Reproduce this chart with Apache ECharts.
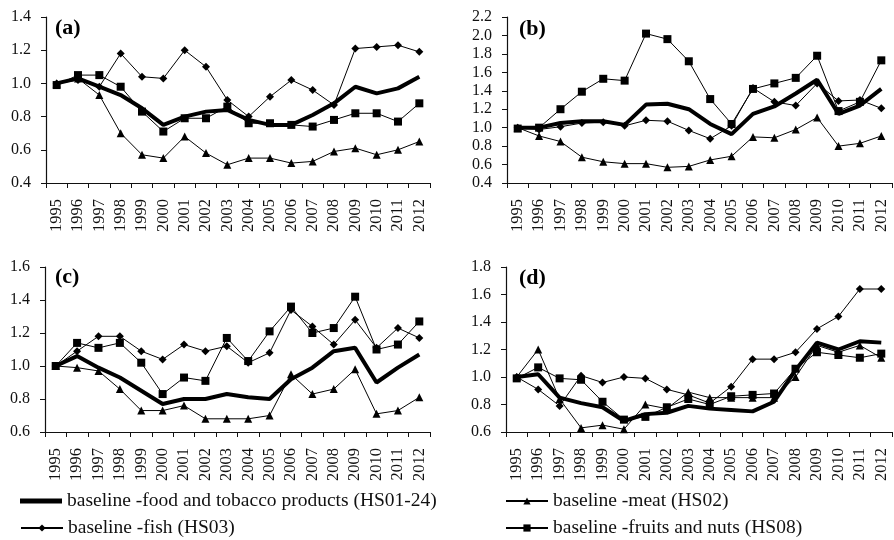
<!DOCTYPE html>
<html>
<head>
<meta charset="utf-8">
<script src="https://cdn.jsdelivr.net/npm/echarts@6.0.0/dist/echarts.min.js"></script>
<style>
  html, body { margin: 0; padding: 0; background: #fff; }
  #chart { width: 894px; height: 540px; }
</style>
</head>
<body>
<div id="chart"></div>
<script>
// Years on the x axis
const years = ["1995", "1996", "1997", "1998", "1999", "2000", "2001", "2002", "2003",
  "2004", "2005", "2006", "2007", "2008", "2009", "2010", "2011", "2012"];

// Series names
const names = [
  "baseline -food and tobacco products (HS01-24)",
  "baseline -meat (HS02)",
  "baseline -fish (HS03)",
  "baseline -fruits and nuts (HS08)",
];

// Panel (a)
const foodA = [1.00, 1.03, 0.98, 0.93, 0.85, 0.75, 0.80, 0.83, 0.84, 0.78, 0.75, 0.75, 0.81, 0.88, 0.98, 0.94, 0.97, 1.04];
const meatA = [1.00, 1.03, 0.93, 0.70, 0.57, 0.55, 0.68, 0.58, 0.51, 0.55, 0.55, 0.52, 0.53, 0.59, 0.61, 0.57, 0.60, 0.65];
const fishA = [1.00, 1.02, 0.98, 1.18, 1.04, 1.03, 1.20, 1.10, 0.90, 0.80, 0.92, 1.02, 0.96, 0.87, 1.21, 1.22, 1.23, 1.19];
const fruitsA = [0.99, 1.05, 1.05, 0.98, 0.83, 0.71, 0.79, 0.79, 0.86, 0.76, 0.76, 0.75, 0.74, 0.78, 0.82, 0.82, 0.77, 0.88];

// Panel (b)
const foodB = [1.00, 1.00, 1.05, 1.07, 1.07, 1.03, 1.25, 1.26, 1.20, 1.04, 0.93, 1.15, 1.23, 1.37, 1.52, 1.15, 1.24, 1.42];
const meatB = [1.00, 0.91, 0.85, 0.68, 0.63, 0.61, 0.61, 0.57, 0.58, 0.65, 0.69, 0.90, 0.89, 0.98, 1.11, 0.80, 0.83, 0.91];
const fishB = [1.00, 0.98, 1.01, 1.05, 1.06, 1.02, 1.08, 1.07, 0.97, 0.88, 1.02, 1.43, 1.28, 1.24, 1.48, 1.29, 1.30, 1.21];
const fruitsB = [0.99, 1.00, 1.20, 1.39, 1.53, 1.51, 2.02, 1.96, 1.72, 1.31, 1.04, 1.42, 1.48, 1.54, 1.78, 1.18, 1.28, 1.73];

// Panel (c)
const foodC = [1.00, 1.06, 0.99, 0.93, 0.85, 0.77, 0.80, 0.80, 0.83, 0.81, 0.80, 0.92, 0.99, 1.09, 1.11, 0.90, 0.99, 1.07];
const meatC = [1.00, 0.99, 0.97, 0.86, 0.73, 0.73, 0.76, 0.68, 0.68, 0.68, 0.70, 0.95, 0.83, 0.86, 0.98, 0.71, 0.73, 0.81];
const fishC = [1.00, 1.09, 1.18, 1.18, 1.09, 1.04, 1.13, 1.09, 1.12, 1.02, 1.08, 1.34, 1.24, 1.13, 1.28, 1.11, 1.23, 1.17];
const fruitsC = [1.00, 1.14, 1.11, 1.14, 1.02, 0.83, 0.93, 0.91, 1.17, 1.03, 1.21, 1.36, 1.20, 1.23, 1.42, 1.10, 1.13, 1.27];

// Panel (d)
const foodD = [1.00, 1.02, 0.85, 0.81, 0.78, 0.68, 0.73, 0.74, 0.79, 0.77, 0.76, 0.75, 0.82, 1.05, 1.25, 1.20, 1.26, 1.25];
const meatD = [1.00, 1.20, 0.84, 0.63, 0.65, 0.62, 0.80, 0.77, 0.89, 0.85, 0.85, 0.85, 0.85, 1.00, 1.23, 1.18, 1.23, 1.14];
const fishD = [1.00, 0.91, 0.79, 1.01, 0.96, 1.00, 0.99, 0.91, 0.87, 0.81, 0.93, 1.13, 1.13, 1.18, 1.35, 1.44, 1.64, 1.64];
const fruitsD = [0.99, 1.07, 0.99, 0.98, 0.82, 0.69, 0.71, 0.78, 0.84, 0.80, 0.86, 0.87, 0.88, 1.06, 1.18, 1.16, 1.14, 1.17];

// Axis ranges per panel
const panelLabels = ["(a)", "(b)", "(c)", "(d)"];
const yMins = [0.4, 0.4, 0.6, 0.6];
const yMaxs = [1.4, 2.2, 1.6, 1.8];

const panels = [
  [foodA, meatA, fishA, fruitsA],
  [foodB, meatB, fishB, fruitsB],
  [foodC, meatC, fishC, fruitsC],
  [foodD, meatD, fishD, fruitsD],
];

const FONT = "Liberation Serif";
const INK = "#111";

// Grid boxes
const grids = [
  { left: 46, top: 17, width: 384, height: 166 },
  { left: 507, top: 17, width: 385, height: 166 },
  { left: 45, top: 267, width: 385, height: 165 },
  { left: 506, top: 267, width: 386, height: 165 },
];

const symbols = ["none", "triangle", "diamond", "rect"];
const symbolSizes = [0, 8, 8, 8];

const xAxes = grids.map((g, i) => ({
  type: "category",
  gridIndex: i,
  data: years,
  boundaryGap: true,
  axisLine: { lineStyle: { color: INK, width: 1.2 } },
  axisTick: { show: true, length: 5, lineStyle: { color: INK } },
  axisLabel: {
    rotate: 90,
    color: INK,
    fontFamily: FONT,
    fontSize: 16.5,
    margin: 16,
    interval: 0,
  },
}));

const yAxes = grids.map((g, i) => ({
  type: "value",
  gridIndex: i,
  min: yMins[i],
  max: yMaxs[i],
  interval: 0.2,
  axisLine: { show: true, lineStyle: { color: INK, width: 1.2 } },
  axisTick: { show: true, length: 5, lineStyle: { color: INK } },
  splitLine: { show: false },
  axisLabel: {
    color: INK,
    fontFamily: FONT,
    fontSize: 16,
    margin: 15,
    formatter: (v) => v.toFixed(1),
  },
}));

const series = [];
panels.forEach((sets, p) => {
  sets.forEach((values, k) => {
    series.push({
      name: names[k],
      type: "line",
      xAxisIndex: p,
      yAxisIndex: p,
      data: values,
      symbol: symbols[k],
      symbolSize: symbolSizes[k],
      showSymbol: k !== 0,
      z: k === 0 ? 5 : 3,
      lineStyle: { color: "#000", width: k === 0 ? 4 : 1 },
      itemStyle: { color: "#000" },
      animation: false,
    });
  });
});

const labelPos = [
  { x: 55, y: 17 },
  { x: 519, y: 18 },
  { x: 55, y: 266 },
  { x: 519, y: 267 },
];

// Legend: one entry per box, two columns
const legendText = { color: INK, fontFamily: FONT, fontSize: 19.5 };
const legendSpots = [
  { name: names[0], left: 20, top: 491 },
  { name: names[2], left: 20, top: 518 },
  { name: names[1], left: 505, top: 491 },
  { name: names[3], left: 505, top: 518 },
];

const option = {
  backgroundColor: "#fff",
  animation: false,
  grid: grids,
  xAxis: xAxes,
  yAxis: yAxes,
  series: series,
  legend: legendSpots.map((spot) => ({
    data:
      spot.name === names[0]
        ? [{ name: spot.name, icon: "rect", itemStyle: { color: "#000" } }]
        : [spot.name],
    left: spot.left,
    top: spot.top,
    padding: 0,
    itemWidth: 42,
    itemHeight: spot.name === names[0] ? 5 : 9,
    itemGap: 4,
    selectedMode: false,
    textStyle: legendText,
  })),
  graphic: labelPos.map((pos, i) => ({
    type: "text",
    left: pos.x,
    top: pos.y,
    style: {
      text: panelLabels[i],
      fontFamily: FONT,
      fontSize: 22,
      fontWeight: "bold",
      fill: "#000",
    },
  })),
};

const chart = echarts.init(document.getElementById("chart"));
chart.setOption(option);
</script>
</body>
</html>
